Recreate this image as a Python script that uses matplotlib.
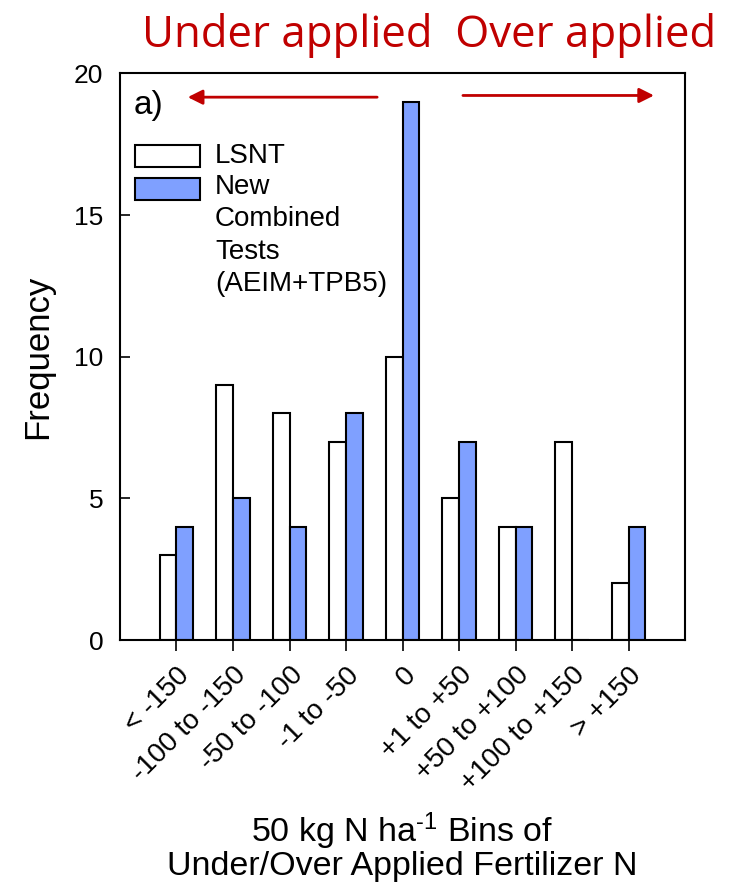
import matplotlib.pyplot as plt
from matplotlib.patches import Rectangle
import numpy as np

plt.rcParams['font.family'] = ['Liberation Sans', 'DejaVu Sans']
plt.rcParams['mathtext.fontset'] = 'custom'
plt.rcParams['mathtext.rm'] = 'Liberation Sans'
plt.rcParams['mathtext.default'] = 'regular'

# data
bins = ["< -150", "-100 to -150", "-50 to -100", "-1 to -50", "0",
        "+1 to +50", "+50 to +100", "+100 to +150", "> +150"]
lsnt = [3, 9, 8, 7, 10, 5, 4, 7, 2]
combined = [4, 5, 4, 8, 19, 7, 4, 0, 4]
yticks = [0, 5, 10, 15, 20]

blue = "#7FA0FF"
red = "#C00000"

fig = plt.figure(figsize=(7.43, 8.84), dpi=100)
ax = fig.add_axes([0.1615, 0.276, 0.7605, 0.641])

x = np.arange(len(bins))
w = 0.3
ax.bar(x - w / 2, lsnt, width=w, color="white", edgecolor="black", linewidth=1.5)
ax.bar(x + w / 2, combined, width=w, color=blue, edgecolor="black", linewidth=1.5)

ax.set_xlim(-1, len(bins))
ax.set_ylim(0, 20)
ax.set_yticks(yticks)
ax.set_xticks(x)
ax.set_xticklabels(bins, rotation=45, ha="right", rotation_mode="anchor", fontsize=20)
ax.tick_params(axis="y", direction="in", length=7, width=1.2, pad=12, labelsize=19)
ax.tick_params(axis="x", direction="out", length=8, width=1.2, pad=8)
for s in ax.spines.values():
    s.set_linewidth(1.5)

ax.set_ylabel("Frequency", fontsize=25, labelpad=14)
ax.set_xlabel("50 kg N ha$^{\\text{-}1}$ Bins of\nUnder/Over Applied Fertilizer N",
              fontsize=24.5, labelpad=10, linespacing=0.98)

# panel label
ax.text(0.025, 0.943, "a)", transform=ax.transAxes, fontsize=24, va="center", ha="left")

# hand-made legend
ax.add_patch(Rectangle((0.027, 0.835), 0.115, 0.038, transform=ax.transAxes,
                       facecolor="white", edgecolor="black", linewidth=1.5))
ax.add_patch(Rectangle((0.027, 0.777), 0.115, 0.038, transform=ax.transAxes,
                       facecolor=blue, edgecolor="black", linewidth=1.5))
ax.text(0.168, 0.854, "LSNT", transform=ax.transAxes, fontsize=20, va="center")
ax.text(0.168, 0.822, "New\nCombined\nTests\n(AEIM+TPB5)", transform=ax.transAxes,
        fontsize=20, va="top", ha="left", linespacing=1.31)

# arrows
ax.annotate("", xy=(0.115, 0.958), xytext=(0.46, 0.958), xycoords="axes fraction",
            arrowprops=dict(arrowstyle="-|>", color=red, lw=2, mutation_scale=22))
ax.annotate("", xy=(0.950, 0.961), xytext=(0.602, 0.961), xycoords="axes fraction",
            arrowprops=dict(arrowstyle="-|>", color=red, lw=2, mutation_scale=22))

fig.text(0.577, 0.96, "Under applied  Over applied", color=red, fontsize=31.5,
         ha="center", va="center", family=["Open Sans", "DejaVu Sans"])

fig.savefig("out.png", dpi=100)
